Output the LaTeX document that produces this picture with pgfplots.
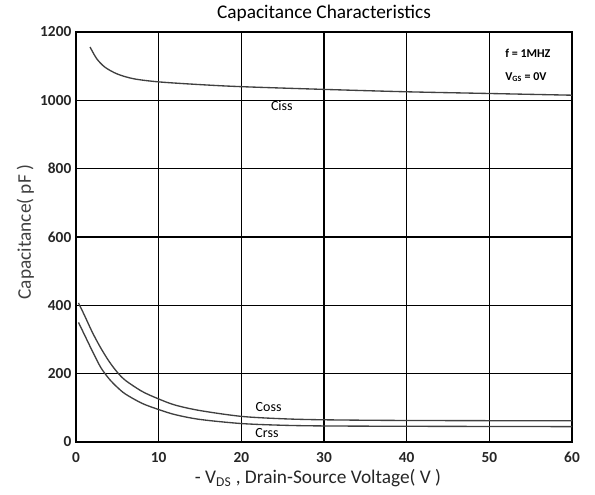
\documentclass[border=0pt]{standalone}
\usepackage{fontspec}
\setmainfont{Carlito}
\usepackage{pgfplots}
\pgfplotsset{compat=1.18}
\begin{document}
\begin{tikzpicture}
\useasboundingbox (-57pt,-39.75pt) rectangle (389.25pt,331.5pt);
\begin{axis}[
  scale only axis, width=372pt, height=307.5pt,
  xmin=0, xmax=60, ymin=0, ymax=1200,
  xtick={0,10,...,60}, ytick={0,200,...,1200},
  grid=major, major grid style={black, line width=1pt},
  axis line style={black, line width=1.4pt},
  tick style={draw=none},
  /pgf/number format/assume math mode=true,
  ticklabel style={font=\bfseries\fontsize{11.5}{12}\selectfont, text=black!85},
  xticklabel style={yshift=-4pt},
  yticklabel style={xshift=0pt},
  /pgf/number format/1000 sep={},
  clip=false,
]
\addplot[black!75, line width=1pt, smooth] coordinates {
(1.7,1156) (2.5,1122) (3.5,1097) (5,1077) (7,1063) (10,1054) (15,1046) (20,1040) (30,1032) (40,1025) (50,1020) (60,1015)};
\addplot[black!75, line width=1pt, smooth] coordinates {
(0.3,407) (1,372) (2,320) (3,275) (4,236) (5,204) (6,180) (8,148) (10,126) (12,108) (15,92) (20,75) (25,68) (30,65) (40,63) (60,62)};
\addplot[black!75, line width=1pt, smooth] coordinates {
(0.3,350) (1,315) (2,265) (3,218) (4,185) (5,160) (6,140) (8,113) (10,95) (12,80) (15,66) (20,54) (25,49) (30,47) (40,46) (60,45)};
\node[font=\fontsize{10.5}{11}\selectfont] at (axis cs:24.9,985) {Ciss};
\node[font=\fontsize{10.5}{11}\selectfont] at (axis cs:23.3,102) {Coss};
\node[font=\fontsize{10.5}{11}\selectfont] at (axis cs:23.1,26) {Crss};
\node[font=\bfseries\fontsize{9}{10}\selectfont, anchor=west, inner sep=0pt] at (axis cs:51.9,1138) {f = 1MHZ};
\node[font=\bfseries\fontsize{9}{10}\selectfont, anchor=west, inner sep=0pt] at (axis cs:51.9,1068) {V\textsubscript{GS} = 0V};
\node[font=\fontsize{14.5}{16}\selectfont] at (axis description cs:0.5,1) [yshift=14.25pt] {Capacitance Characteristics};
\node[font=\fontsize{14.5}{16}\selectfont, text=black!75, rotate=90] at (axis description cs:0,0.512) [yshift=38pt] {Capacitance( pF )};
\node[font=\fontsize{14.5}{16}\selectfont, text=black!85] at (axis description cs:0.488,0) [yshift=-27pt] {- V\textsubscript{DS} , Drain-Source Voltage( V )};
\end{axis}
\end{tikzpicture}
\end{document}
